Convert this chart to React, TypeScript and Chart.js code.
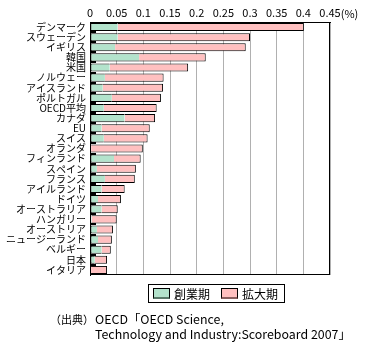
import React, { useEffect, useRef } from "react";
import { Chart, registerables } from "chart.js";

Chart.register(...registerables);

const countries = [
  "デンマーク", "スウェーデン", "イギリス", "韓国", "米国", "ノルウェー", "アイスランド",
  "ポルトガル", "OECD平均", "カナダ", "EU", "スイス", "オランダ", "フィンランド", "スペイン",
  "フランス", "アイルランド", "ドイツ", "オーストラリア", "ハンガリー", "オーストリア",
  "ニュージーランド", "ベルギー", "日本", "イタリア",
];
const startupStage = [
  0.052, 0.052, 0.047, 0.092, 0.037, 0.028, 0.024, 0.041, 0.026, 0.065, 0.022, 0.026, 0.002,
  0.045, 0.013, 0.028, 0.022, 0.015, 0.022, 0.003, 0.013, 0.015, 0.022, 0.009, 0.002,
];
const expansionStage = [
  0.349, 0.248, 0.245, 0.125, 0.147, 0.110, 0.113, 0.092, 0.099, 0.057, 0.090, 0.082, 0.097,
  0.050, 0.073, 0.056, 0.043, 0.043, 0.030, 0.047, 0.030, 0.026, 0.017, 0.023, 0.030,
];
const seriesNames = ["創業期", "拡大期"];
const xTickValues = [0, 0.05, 0.1, 0.15, 0.2, 0.25, 0.3, 0.35, 0.4, 0.45];
const xTickLabels = ["0", "0.05", "0.1", "0.15", "0.2", "0.25", "0.3", "0.35", "0.4", "0.45"];
const unitLabel = "(%)";
const sourcePrefix = "（出典）";
const sourceLine1 = "OECD「OECD Science,";
const sourceLine2 = "Technology and Industry:Scoreboard 2007」";

const GREEN = "#b3e3cc";
const PINK = "#ffc0c0";
const FONT = "'Noto Sans CJK JP', 'Noto Sans', sans-serif";

const framePlugin = {
  id: "frame",
  afterDraw(chart: any) {
    const { ctx, chartArea: a } = chart;
    const y = chart.scales.y;
    const x = chart.scales.x;
    ctx.save();
    ctx.strokeStyle = "#000";
    ctx.lineWidth = 1;
    ctx.strokeRect(a.left + 0.5, a.top + 0.5, a.right - a.left - 1, a.bottom - a.top - 1);
    // inward tick marks at category boundaries
    const n = chart.data.labels.length;
    ctx.lineWidth = 2;
    for (let i = 1; i < n; i++) {
      const py = (y.getPixelForValue(i - 1) + y.getPixelForValue(i)) / 2;
      ctx.beginPath();
      ctx.moveTo(a.left, Math.round(py));
      ctx.lineTo(a.left + 6, Math.round(py));
      ctx.stroke();
    }
    // unit after last tick label
    ctx.font = `11px ${FONT}`;
    ctx.fillStyle = "#000";
    ctx.textBaseline = "bottom";
    ctx.textAlign = "left";
    const lastV = xTickValues[xTickValues.length - 1];
    const lastL = xTickLabels[xTickLabels.length - 1];
    const px = x.getPixelForValue(lastV) + ctx.measureText(lastL).width / 2;
    ctx.fillText(unitLabel, px, a.top - 3);
    ctx.restore();
  },
};

export default function App() {
  const ref = useRef<HTMLCanvasElement | null>(null);
  useEffect(() => {
    document.body.style.margin = "0";
    const chart = new Chart(ref.current as HTMLCanvasElement, {
      type: "bar",
      data: {
        labels: countries,
        datasets: [
          {
            label: seriesNames[0],
            data: startupStage,
            backgroundColor: GREEN,
            borderColor: "#000",
            borderWidth: { top: 1, bottom: 1, left: 1, right: 0 },
            borderSkipped: false,
            barPercentage: 0.8,
            categoryPercentage: 1,
          },
          {
            label: seriesNames[1],
            data: expansionStage,
            backgroundColor: PINK,
            borderColor: "#000",
            borderWidth: { top: 1, bottom: 1, left: 0, right: 1 },
            borderSkipped: false,
            barPercentage: 0.8,
            categoryPercentage: 1,
          },
        ],
      },
      options: {
        indexAxis: "y",
        responsive: true,
        maintainAspectRatio: false,
        animation: false,
        layout: { padding: { left: 0, right: 42, top: 0, bottom: 76 } },
        plugins: { legend: { display: false }, tooltip: { enabled: false } },
        scales: {
          x: {
            position: "top",
            stacked: true,
            min: 0,
            max: 0.45,
            afterBuildTicks: (s: any) => {
              s.ticks = xTickValues.map((v) => ({ value: v }));
            },
            afterFit: (s: any) => {
              s.height = 22;
            },
            ticks: {
              autoSkip: false,
              maxRotation: 0,
              padding: 3,
              color: "#000",
              font: { family: FONT, size: 11 },
              callback: (_v: any, i: number) => xTickLabels[i],
            },
            grid: { color: "#b0b0b0", drawTicks: false, lineWidth: 1 },
            border: { display: true, color: "#000" },
          },
          y: {
            stacked: true,
            afterFit: (s: any) => {
              s.width = 90;
            },
            ticks: {
              autoSkip: false,
              padding: 4,
              color: "#000",
              font: { family: FONT, size: 10 },
            },
            grid: { display: false, drawTicks: false },
            border: { display: true, color: "#000" },
          },
        },
      },
      plugins: [framePlugin],
    } as any);
    return () => chart.destroy();
  }, []);

  const swatch = (color: string, shade: string) => (
    <span
      style={{
        display: "inline-block",
        width: 15,
        height: 8,
        background: color,
        border: "1px solid #000",
        borderBottom: `2px solid ${shade}`,
        marginRight: 4,
      }}
    />
  );

  return (
    <div style={{ position: "relative", width: 372, height: 351, fontFamily: FONT, background: "#fff" }}>
      <canvas ref={ref} style={{ position: "absolute", left: 0, top: 0 }} />
      <div
        style={{
          position: "absolute",
          left: 148,
          top: 284,
          width: 131,
          height: 17,
          border: "1px solid #000",
          display: "flex",
          alignItems: "center",
          paddingLeft: 4,
          boxSizing: "content-box",
          fontSize: 12,
          lineHeight: "17px",
          whiteSpace: "nowrap",
        }}
      >
        {swatch(GREEN, "#5a7a6a")}
        <span style={{ marginRight: 11 }}>{seriesNames[0]}</span>
        {swatch(PINK, "#8a6060")}
        <span>{seriesNames[1]}</span>
      </div>
      <div
        style={{
          position: "absolute",
          left: 50,
          top: 312,
          fontSize: 11,
          lineHeight: "15px",
          whiteSpace: "nowrap",
        }}
      >
        {sourcePrefix}
      </div>
      <div
        style={{
          position: "absolute",
          left: 95,
          top: 312,
          fontSize: 12.4,
          lineHeight: "15px",
          whiteSpace: "nowrap",
        }}
      >
        <div>{sourceLine1}</div>
        <div>{sourceLine2}</div>
      </div>
    </div>
  );
}
